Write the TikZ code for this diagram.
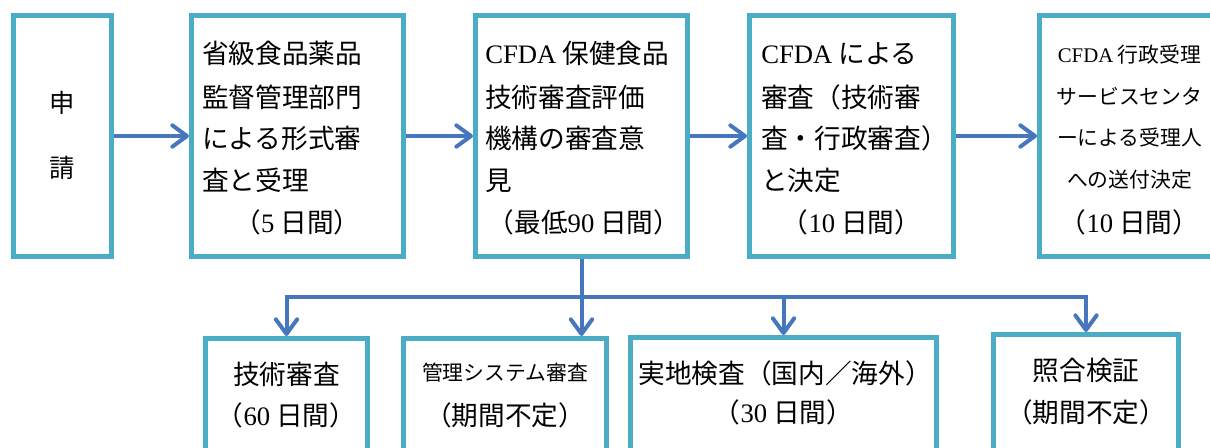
\documentclass[tikz,border=0pt]{standalone}
\usepackage{fontspec}
\setmainfont{Liberation Serif}
\newfontfamily\jp{Noto Sans CJK JP}
\usetikzlibrary{arrows.meta}
\definecolor{boxc}{HTML}{4BACC6}
\definecolor{arrc}{HTML}{4676BE}
\newcommand\lat[1]{{\rmfamily #1}}
\begin{document}
\begin{tikzpicture}[x=0.75pt, y=-0.75pt,
  box/.style={draw=boxc, line width=3.75pt, rectangle, inner sep=0pt, outer sep=1.875pt},
  big/.style={font=\jp\fontsize{20}{24}\selectfont, inner sep=0pt, text=black},
  small/.style={font=\jp\fontsize{15.6}{19}\selectfont, inner sep=0pt, text=black},
  lft/.style={anchor=base west},
  ctr/.style={anchor=base},
  conn/.style={draw=arrc, line width=3pt},
  arr/.style={conn, -{Straight Barb[length=11pt,width=16pt,round]}}]
\useasboundingbox (0,0) rectangle (1210,447);
\clip (0,0) rectangle (1210,447);

% top boxes
\node[box, minimum width=73.5pt, minimum height=180.75pt] (B1) at (62.5,136) {};
\node[box, minimum width=159pt, minimum height=180.75pt] (B2) at (297.5,136) {};
\node[box, minimum width=159pt, minimum height=180.75pt] (B3) at (581.5,136) {};
\node[box, minimum width=153pt, minimum height=180.75pt] (B4) at (851.5,136) {};
\node[box, minimum width=136.875pt, minimum height=180.75pt] (B5) at (1130.75,136) {};

% bottom boxes
\node[box, minimum width=121.5pt, minimum height=106.125pt] (C1) at (286.5,409.25) {};
\node[box, minimum width=152.25pt, minimum height=106.125pt] (C2) at (505,409.25) {};
\node[box, minimum width=229.5pt, minimum height=106.875pt] (C3) at (783.5,408.75) {};
\node[box, minimum width=138.75pt, minimum height=109.125pt] (C4) at (1086,407.25) {};

% texts box 1
\node[big, ctr, font=\jp\fontsize{19}{23}\selectfont] (t1a) at (62.5,112.6) {申};
\node[big, ctr, font=\jp\fontsize{19}{23}\selectfont] (t1b) at (62.5,177.6) {請};

% box 2
\node[big, lft] (t2a) at (202,63.1) {省級食品薬品};
\node[big, lft] (t2b) at (202,107.1) {監督管理部門};
\node[big, lft] (t2c) at (202,148.1) {による形式審};
\node[big, lft] (t2d) at (202,190.1) {査と受理};
\node[big, ctr] (t2e) at (297.5,232.1) {（\lat{5} 日間）};

% box 3
\node[big, lft] (t3a) at (485,63.1) {\lat{CFDA} 保健食品};
\node[big, lft] (t3b) at (485,107.1) {技術審査評価};
\node[big, lft] (t3c) at (485,148.1) {機構の審査意};
\node[big, lft] (t3d) at (485,190.1) {見};
\node[big, ctr] (t3e) at (584,232.1) {（最低\lat{90} 日間）};

% box 4
\node[big, lft] (t4a) at (761,63.1) {\lat{CFDA} による};
\node[big, lft] (t4b) at (761,107.1) {審査（技術審};
\node[big, lft] (t4c) at (761,148.1) {査・行政審査）};
\node[big, lft] (t4d) at (761,190.1) {と決定};
\node[big, ctr] (t4e) at (851.5,232.1) {（\lat{10} 日間）};

% box 5
\node[small, ctr] (t5a) at (1129.5,62.9) {\lat{CFDA} 行政受理};
\node[small, ctr] (t5b) at (1129.5,104.9) {サービスセンタ};
\node[small, ctr] (t5c) at (1129.5,145.9) {ーによる受理人};
\node[small, ctr] (t5d) at (1129.5,187.9) {への送付決定};
\node[big, ctr] (t5e) at (1129.5,232.1) {（\lat{10} 日間）};

% bottom texts
\node[big, ctr] (u1a) at (286.5,384.1) {技術審査};
\node[big, ctr] (u1b) at (286.5,425.1) {（\lat{60} 日間）};
\node[small, ctr] (u2a) at (505,380.9) {管理システム審査};
\node[big, ctr] (u2b) at (505,425.1) {（期間不定）};
\node[big, ctr] (u3a) at (785,383.1) {実地検査（国内／海外）};
\node[big, ctr] (u3b) at (783.5,422.1) {（\lat{30} 日間）};
\node[big, ctr] (u4a) at (1086,380.1) {照合検証};
\node[big, ctr] (u4b) at (1086,422.1) {（期間不定）};

% connectors
\draw[arr] (B1) -- (B2);
\draw[arr] (B2) -- (B3);
\draw[arr] (B3) -- (B4);
\draw[arr] (B4) -- (B5);

\coordinate (j) at (581.5,297);
\draw[conn] (B3.south) -- (j);
\draw[arr] (j) -| (C1.north);
\draw[arr] (j) -- (j |- C2.north);
\draw[arr] (j) -| (C3.north);
\draw[arr] (j) -| (C4.north);
\end{tikzpicture}
\end{document}
